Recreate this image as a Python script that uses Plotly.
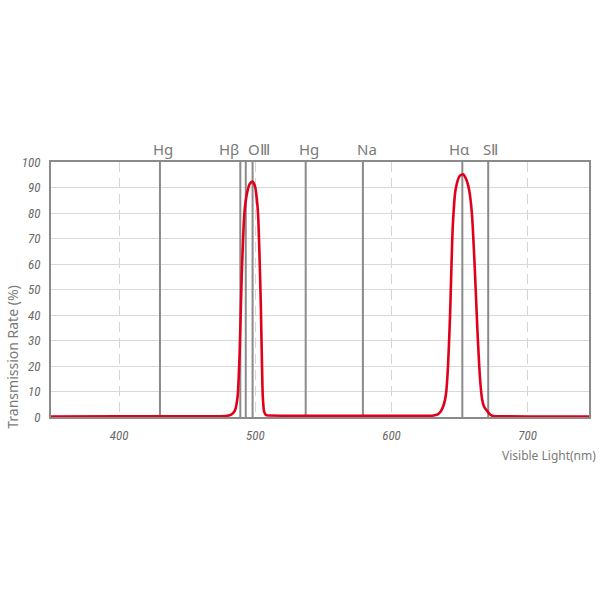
import plotly.graph_objects as go

# Filter transmission curve
wavelength = [350, 400, 450, 478, 482, 485, 487, 488.5, 490, 492, 494, 496, 498, 500,
              501, 502, 503, 504, 505, 505.5, 506.5, 508, 510, 550, 600, 630, 634,
              636.5, 638.5, 640, 641.5, 643, 645, 647, 650, 652.5, 655, 657, 659, 661,
              663, 665, 666.5, 668, 670, 672, 674, 676, 680, 720, 745]
transmission = [0.2, 0.25, 0.3, 0.4, 0.8, 2.5, 8, 25, 55, 80, 88, 91.5, 92.3, 90,
                86, 80, 65, 45, 18, 8, 2, 0.7, 0.6, 0.5, 0.5, 0.5, 1,
                2.5, 5, 9, 20, 40, 75, 89, 94.5, 95.2, 93, 89, 80, 60,
                35, 15, 7, 4, 2.5, 1.2, 0.5, 0.3, 0.25, 0.2, 0.2]

# Emission lines (positions as drawn)
line_names = ["Hg", "Hβ", "OⅢ", "Hg", "Na", "Hα", "SⅡ"]
line_label_pos = [432.5, 480.6, 502.5, 539.5, 582, 650, 672.6]
line_positions = [430, 489, 493, 498, 537, 579, 652, 671]

x_ticks = [400, 500, 600, 700]
y_ticks = list(range(0, 101, 10))

GRAY = "#8a8a8a"
TXT = "#7a7a7a"

fig = go.Figure()

for xp in line_positions:
    fig.add_trace(go.Scatter(x=[xp, xp], y=[0, 100], mode="lines",
                             line=dict(color=GRAY, width=2), hoverinfo="skip",
                             showlegend=False))

fig.add_trace(go.Scatter(x=wavelength, y=transmission, mode="lines",
                         line=dict(color="#e0001b", width=2.6, shape="spline", smoothing=0.6),
                         showlegend=False))

for name, xp in zip(line_names, line_label_pos):
    fig.add_annotation(x=xp, y=1, xref="x", yref="paper", text=name, showarrow=False,
                       yanchor="bottom", yshift=1,
                       font=dict(family="Noto Sans, Open Sans, sans-serif", size=15, color=TXT))

fig.add_annotation(x=1.016, y=-0.15, xref="paper", yref="paper", text="Visible Light(nm)",
                   showarrow=False, xanchor="right", yanchor="middle",
                   font=dict(family="Noto Sans, Open Sans, sans-serif", size=12, color=TXT))
fig.add_annotation(x=(12 - 51) / 540, y=0.233, xref="paper", yref="paper",
                   text="Transmission Rate (%)",
                   showarrow=False, textangle=-90, xanchor="center", yanchor="middle",
                   font=dict(family="Noto Sans, Open Sans, sans-serif", size=14, color=TXT))

tickfont = dict(family="Liberation Sans Narrow, Roboto Condensed, Roboto, sans-serif", size=13,
                color="#6a6a6a", style="italic")

fig.update_xaxes(range=[350, 745], tickvals=x_ticks, ticktext=[str(v) for v in x_ticks],
                 showgrid=True, gridcolor="#d4d4d4", gridwidth=1.2, griddash="10px,6px",
                 showline=True, linecolor=GRAY, linewidth=2, mirror=True,
                 ticks="", ticklabelstandoff=5, tickfont=tickfont, zeroline=False,
                 layer="below traces")
fig.update_yaxes(range=[0, 100], tickvals=y_ticks, ticktext=[str(v) for v in y_ticks],
                 showgrid=True, gridcolor="#d9d9d9", gridwidth=1.2,
                 showline=True, linecolor=GRAY, linewidth=2, mirror=True,
                 ticks="", ticklabelstandoff=6, tickfont=tickfont, zeroline=False,
                 layer="below traces")

fig.update_layout(width=600, height=600, margin=dict(l=51, r=9, t=162, b=183),
                  paper_bgcolor="white", plot_bgcolor="white", showlegend=False)

fig.write_html("out.html", config={"displayModeBar": False},
               post_script="document.body.style.margin='0';")
